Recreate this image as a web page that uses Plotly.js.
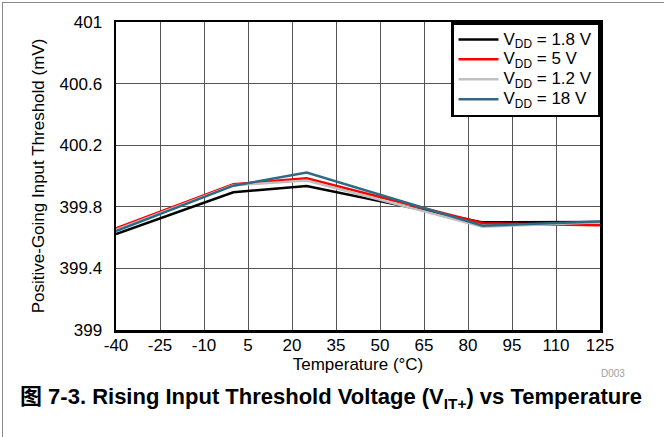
<!DOCTYPE html>
<html>
<head>
<meta charset="utf-8">
<script src="https://cdn.plot.ly/plotly-3.0.1.min.js"></script>
<style>
  html, body { margin: 0; padding: 0; background: #fff; }
  #wrap { position: relative; width: 664px; height: 437px; }
  #chart { width: 664px; height: 437px; }
  #frame { position: absolute; left: 2px; top: 2px; right: 0; bottom: 0;
           border-left: 1px solid #8a8a8a; border-top: 1px solid #8a8a8a; pointer-events: none; }
</style>
</head>
<body>
<div id="wrap"><div id="chart"></div><div id="frame"></div></div>
<script>
// Data
const temperature = [-40, 0, 25, 85, 125];
const vdd18 = [399.623, 399.894, 399.935, 399.699, 399.701];
const vdd5  = [399.660, 399.946, 399.985, 399.693, 399.680];
const vdd12 = [399.650, 399.940, 399.970, 399.671, 399.700];
const vdd180 = [399.643, 399.937, 400.022, 399.677, 399.705];

const seriesNames = ['V<sub>DD</sub> = 1.8 V', 'V<sub>DD</sub> = 5 V', 'V<sub>DD</sub> = 1.2 V', 'V<sub>DD</sub> = 18 V'];
const seriesValues = [vdd18, vdd5, vdd12, vdd180];
const seriesColors = ['#000000', '#ff0000', '#c0c0c0', '#2f6a84'];

const xTicks = [-40, -25, -10, 5, 20, 35, 50, 65, 80, 95, 110, 125];
const yTicks = [399, 399.4, 399.8, 400.2, 400.6, 401];
const yTickText = ['399', '399.4', '399.8', '400.2', '400.6', '401'];

const FONT = 'Liberation Sans, Arial, Helvetica, sans-serif';

const traces = seriesValues.map((vals, i) => ({
  x: temperature, y: vals, type: 'scatter', mode: 'lines',
  name: '<span style="font-size:17px">' + seriesNames[i] + '</span>',
  line: { color: seriesColors[i], width: 2.5 }
}));

const layout = {
  width: 664, height: 437,
  margin: { l: 116, r: 64, t: 22, b: 107 },
  paper_bgcolor: '#ffffff', plot_bgcolor: '#ffffff',
  font: { family: FONT, size: 17, color: '#000' },
  showlegend: true,
  legend: {
    x: 1, xanchor: 'right', y: 1, yanchor: 'top',
    bgcolor: '#ffffff', bordercolor: '#000', borderwidth: 2.5,
    font: { family: FONT, size: 13, color: '#000' },
    tracegroupgap: 0, itemwidth: 40
  },
  xaxis: {
    range: [-40, 125], tickmode: 'array', tickvals: xTicks,
    ticktext: xTicks.map(String),
    showgrid: true, gridcolor: '#555', gridwidth: 1,
    showline: true, linecolor: '#000', linewidth: 2.5, mirror: true,
    zeroline: false, ticks: '', ticklabelstandoff: -2,
    tickfont: { family: FONT, size: 17 },
    title: { text: 'Temperature (°C)', font: { family: FONT, size: 17 }, standoff: 0 }
  },
  yaxis: {
    range: [399, 401], tickmode: 'array', tickvals: yTicks, ticktext: yTickText,
    showgrid: true, gridcolor: '#555', gridwidth: 1,
    showline: true, linecolor: '#000', linewidth: 2.5, mirror: true,
    zeroline: false, ticks: '', ticklabelstandoff: 8,
    tickfont: { family: FONT, size: 17 },
    title: { text: 'Positive-Going Input Threshold (mV)', font: { family: FONT, size: 17 }, standoff: 11 }
  },
  annotations: [
    { text: 'D003', xref: 'paper', yref: 'paper', x: (613 - 116) / 484, y: (330 - 373) / 308,
      xanchor: 'center', yanchor: 'middle', showarrow: false,
      font: { family: FONT, size: 10, color: '#a0a0a0' } },
    { text: '<b>图 7-3. Rising Input Threshold Voltage (V<sub>IT+</sub>) vs Temperature</b>',
      xref: 'paper', yref: 'paper', x: (18 - 116) / 484, y: (330 - 398) / 308,
      xanchor: 'left', yanchor: 'middle', showarrow: false,
      font: { family: 'Liberation Sans, Arial, Noto Sans CJK SC, sans-serif', size: 22, color: '#000' } }
  ]
};

Plotly.newPlot('chart', traces, layout, { displayModeBar: false, staticPlot: true });
</script>
</body>
</html>
